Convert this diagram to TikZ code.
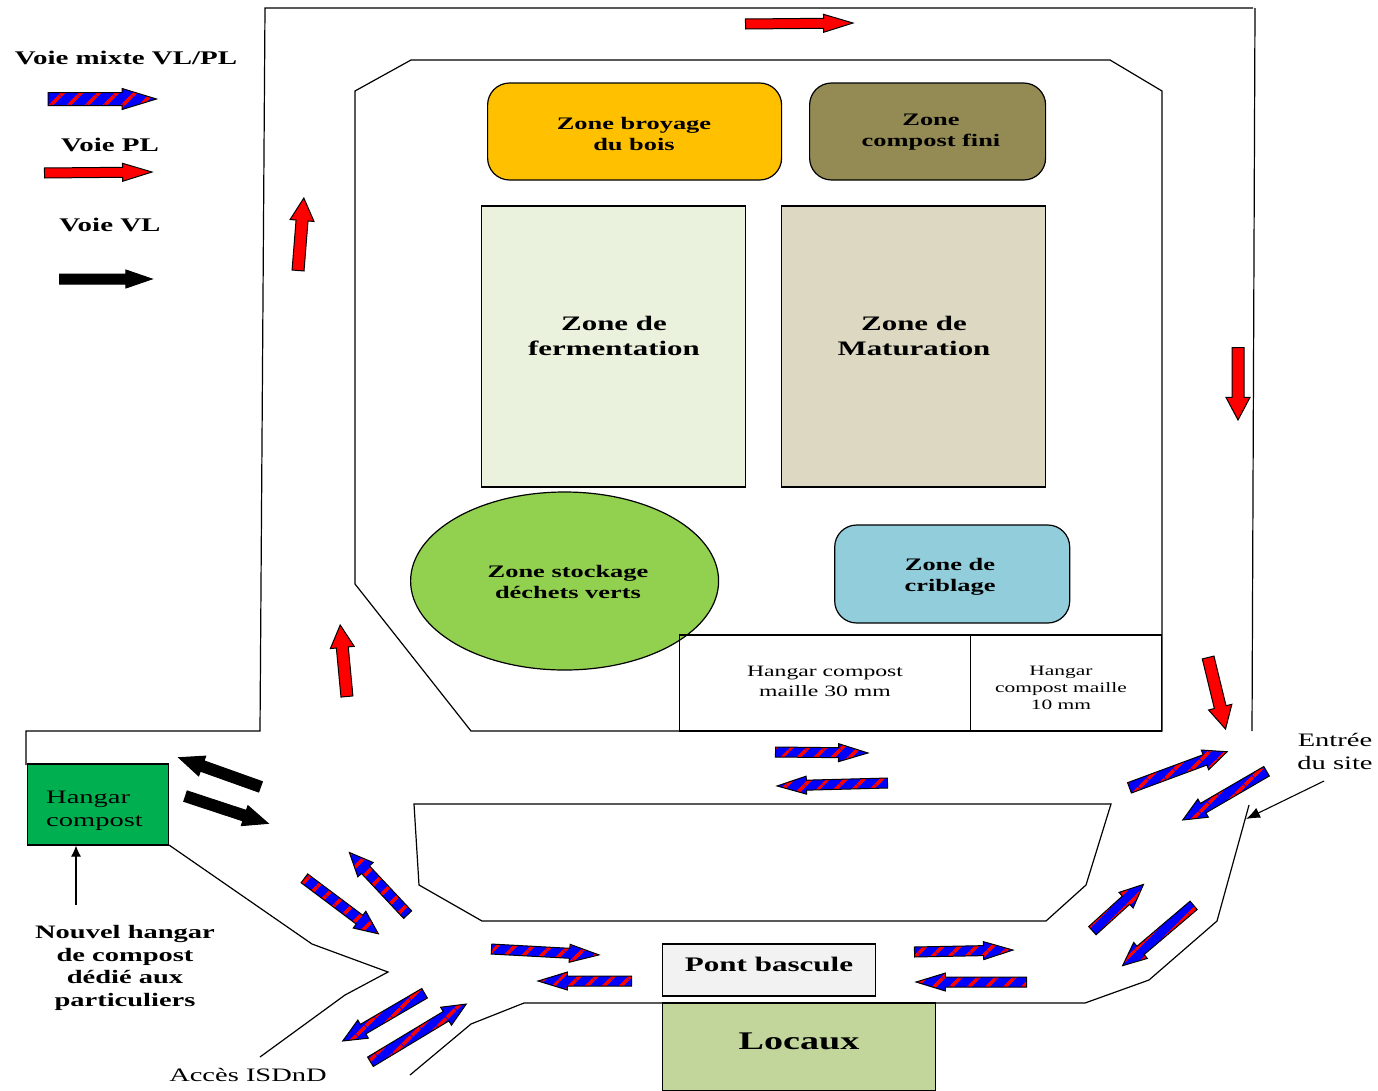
\documentclass[tikz,border=0pt]{standalone}
\usepackage{fontspec}
\setmainfont[FakeStretch=1.5]{Liberation Serif}
\usetikzlibrary{shapes.arrows,patterns.meta,arrows.meta}
\definecolor{broyage}{HTML}{FFC000}
\definecolor{fini}{HTML}{948A54}
\definecolor{ferment}{HTML}{EAF1DD}
\definecolor{matur}{HTML}{DDD8C2}
\definecolor{criblage}{HTML}{92CDDC}
\definecolor{stockage}{HTML}{92D050}
\definecolor{hangarvert}{HTML}{00B050}
\definecolor{pont}{HTML}{F2F2F2}
\definecolor{locaux}{HTML}{C2D69B}
\tikzset{
  road/.style = {line width=1.2pt, line join=miter},
  zone/.style = {draw, line width=1.2pt, inner sep=0pt},
  roundzone/.style = {zone, rounded corners=22pt},
  zonetext/.style = {inner sep=0pt, align=center, font=\bfseries\fontsize{17.6}{21}\selectfont},
  bigtext/.style = {inner sep=0pt, align=center, font=\bfseries\fontsize{20.6}{25}\selectfont},
  legende/.style = {inner sep=0pt, font=\bfseries\fontsize{19.3}{21}\selectfont},
  petit/.style = {inner sep=0pt, align=center, font=\fontsize{15.8}{20}\selectfont},
  basearrow/.style = {single arrow, draw, anchor=tail, line width=1pt, inner sep=0pt, single arrow head indent=0pt},
  stripes/.style = {preaction={fill=blue}, pattern={Lines[angle=45,distance=13pt,line width=4pt]}, pattern color=red},
  pl/.style = {basearrow, fill=red, minimum width=17pt, single arrow tip angle=34, single arrow head extend=4pt, inner ysep=4.5pt},
  plv/.style = {basearrow, fill=red, minimum width=23pt, single arrow tip angle=56, single arrow head extend=6pt, inner ysep=5.5pt},
  mixte/.style = {basearrow, stripes, minimum width=17pt, single arrow tip angle=34, single arrow head extend=4pt, inner ysep=4.5pt},
  mixted/.style = {basearrow, stripes, minimum width=20pt, single arrow tip angle=48, single arrow head extend=5pt, inner ysep=5pt},
  vl/.style = {basearrow, fill=black, minimum width=17pt, single arrow tip angle=38, single arrow head extend=4pt, inner ysep=4.5pt},
  vld/.style = {basearrow, fill=black, minimum width=20pt, single arrow tip angle=46, single arrow head extend=5pt, inner ysep=5pt},
}
\begin{document}
\begin{tikzpicture}[x=1pt, y=-1pt]
\useasboundingbox (0,0) rectangle (1378,1090);
% voies
\draw [road] (26,765) -- (26,731) -- (260,731) -- (265,8) -- (1253,8);
\draw [road] (1255,8) -- (1252,731);
\draw [road] (169,845) -- (312,944) -- (388,972) -- (345,995) -- (260,1057);
\draw [road] (410,1075) -- (471,1024) -- (524,1003) -- (1085,1003) -- (1149,980) -- (1217,921) -- (1249,805);
\draw [road] (355,91) -- (411,60) -- (1110,60) -- (1162,91) -- (1162,731) -- (471,731) -- (355,584) -- cycle;
\draw [road] (414,804) -- (1111,804) -- (1086,885) -- (1046,921) -- (482,921) -- (419,885) -- cycle;
% zones
\node [roundzone, fill=broyage, minimum width=294pt, minimum height=97pt] (broy) at(634.6,131.5) {};
\node [zonetext] (broyt) at(634,133.5) {Zone broyage\\du bois};
\node [roundzone, fill=fini, minimum width=236pt, minimum height=97pt] (fini) at(927.6,131.5) {};
\node [zonetext] (finit) at(931,132.5) {Zone\\compost fini};
\node [zone, fill=ferment, minimum width=264pt, minimum height=281pt] (ferm) at(613.6,346.5) {};
\node [bigtext] (fermt) at(614,336) {Zone de\\fermentation};
\node [zone, fill=matur, minimum width=264pt, minimum height=281pt] (matu) at(913.6,346.5) {};
\node [bigtext] (matut) at(914,336) {Zone de\\Maturation};
\node [roundzone, fill=criblage, minimum width=235pt, minimum height=98pt] (crib) at(952.2,574) {};
\node [zonetext] (cribt) at(950,577) {Zone de\\criblage};
\draw [line width=1.2pt, fill=stockage] (564.6,581) ellipse [x radius=154, y radius=89];
\node [zonetext] (stock) at(568,582) {Zone stockage\\d\'echets verts};
\node [zone, minimum width=291.5pt, minimum height=96pt] (h30) at(825,683) {};
\node [petit] (h30t) at(825,681.5) {Hangar compost\\maille 30 mm};
\node [zone, minimum width=191pt, minimum height=96pt] (h10) at(1066.2,683) {};
\node [petit, font=\fontsize{14.3}{17}\selectfont] (h10t) at(1061,688) {Hangar\\compost maille\\10 mm};
\node [zone, fill=hangarvert, minimum width=141pt, minimum height=81pt] (hang) at(98.2,804.5) {};
\node [inner sep=0pt, align=left, font=\fontsize{19}{23}\selectfont, anchor=west] (hangt) at(46,811) {Hangar\\compost};
\node [zone, fill=pont, minimum width=213pt, minimum height=52pt] (pont) at(769.2,970) {};
\node [inner sep=0pt, font=\bfseries\fontsize{20.7}{23}\selectfont] (pontt) at(769,964) {Pont bascule};
\node [zone, fill=locaux, minimum width=273pt, minimum height=88pt] (loc) at(799.2,1047) {};
\node [inner sep=0pt, font=\bfseries\fontsize{25.4}{28}\selectfont] (loct) at(799,1041) {Locaux};
% legende
\node [legende] (vmixte) at(126,58) {Voie mixte VL/PL};
\node [legende] (vpl) at(110,145) {Voie PL};
\node [legende] (vvl) at(110,225) {Voie VL};
% textes
\node [inner sep=0pt, align=center, font=\bfseries\fontsize{19}{22.7}\selectfont] (nouvel) at(125,968) {Nouvel hangar\\de compost\\d\'edi\'e aux\\particuliers};
\node [petit, font=\fontsize{19}{18}\selectfont] (isdnd) at(248,1075) {Acc\`es ISDnD};
\node [petit, font=\fontsize{19}{23}\selectfont] (entree) at(1335,751) {Entr\'ee\\du site};
\coordinate (nh) at(76,905);
\coordinate (es) at(1324,781);
\coordinate (ep) at(1246,819);
\draw [line width=1.1pt, -{Latex[length=11pt,width=10pt]}] (nh) -- (hang.south -| nh);
\draw [line width=1.1pt, -{Latex[length=14pt,width=11pt]}] (es) -- (ep);
% fleches
\foreach \nm/\sty/\xa/\ya/\xb/\yb in {
  a1/mixte/46/99/157/99, a2/mixte/775/752/870/753, a3/mixte/888/783/775/786,
  a4/mixted/1129/788/1229/751, a5/mixted/1267/771/1181/821, a6/mixted/1092/931/1145/883,
  a7/mixted/1194/905/1121/967, a8/mixte/914/952/1015/950, a9/mixte/1027/982/914/982,
  a10/mixte/491/949/601/955, a11/mixte/632/981/536/981, a12/mixted/304/878/380/935,
  a13/mixted/408/915/348/851, a14/mixted/425/993/341/1042, a15/mixted/370/1062/468/1003,
  b1/pl/44/173/154/172, b2/pl/745/24/855/23, b3/plv/298/271/304/196,
  b4/plv/347/697/340/623, b5/plv/1238/347/1238/422, b6/plv/1208/657/1226/731,
  c1/vl/59/279/154/279, c2/vld/261/787/177/757, c3/vld/185/796/270/824}{
  \pgfmathsetmacro{\ang}{atan2(\ya-\yb,\xb-\xa)}
  \pgfmathsetmacro{\len}{veclen(\xb-\xa,\yb-\ya)-2.5}
  \node [\sty, rotate=\ang, minimum height=\len pt] (\nm) at(\xa,\ya) {};
}
\end{tikzpicture}
\end{document}
